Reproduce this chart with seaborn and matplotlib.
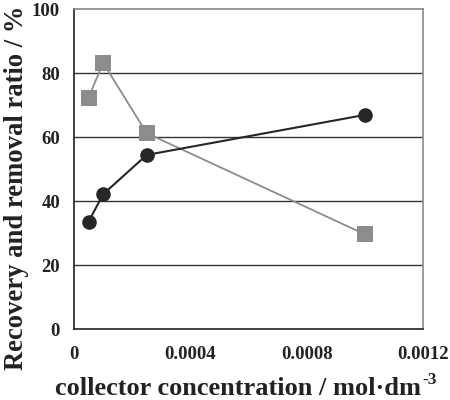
import matplotlib
matplotlib.use("Agg")
import matplotlib.pyplot as plt
import seaborn as sns
import pandas as pd

conc = [0.00005, 0.0001, 0.00025, 0.001]
recovery = [33.5, 42.1, 54.4, 66.9]
removal = [72.3, 83.2, 61.2, 29.6]
xticks = [0, 0.0004, 0.0008, 0.0012]
xticklabels = ["0", "0.0004", "0.0008", "0.0012"]
yticks = [0, 20, 40, 60, 80, 100]

sns.set_theme(style="white")
plt.rcParams['font.family'] = ['Liberation Serif', 'DejaVu Serif']
plt.rcParams['font.weight'] = 'bold'

W, H = 450, 400
fig = plt.figure(figsize=(4.5, 4.0), dpi=100)
ax = fig.add_axes([74 / W, 1 - 329 / H, 349 / W, 320 / H])

df1 = pd.DataFrame({"x": conc, "y": recovery})
df2 = pd.DataFrame({"x": conc, "y": removal})

for yv in [20, 40, 60, 80]:
    ax.axhline(yv, color="#333333", lw=1.0, zorder=0)

sns.lineplot(data=df2, x="x", y="y", ax=ax, color="#8c8c8c", lw=1.3,
             marker="s", markersize=11, markeredgewidth=0, markerfacecolor="#8c8c8c", zorder=3)
sns.lineplot(data=df1, x="x", y="y", ax=ax, color="#262626", lw=1.5,
             marker="o", markersize=10.5, markeredgewidth=0, markerfacecolor="#262626", zorder=4)

ax.set_xlim(0, 0.0012)
ax.set_ylim(0, 100)
ax.set_xticks(xticks)
ax.set_xticklabels(xticklabels)
ax.set_yticks(yticks)
ax.tick_params(axis='x', direction='in', length=5, width=1, colors="#333333", labelcolor="#222222",
               labelsize=13.5, pad=12)
ax.tick_params(axis='y', length=0, labelsize=13.5, labelcolor="#222222", pad=10)
for lab in ax.get_xticklabels() + ax.get_yticklabels():
    lab.set_fontweight('bold')

for s in ['left', 'bottom']:
    ax.spines[s].set_color("#222222")
    ax.spines[s].set_linewidth(1.2)
for s in ['top', 'right']:
    ax.spines[s].set_color("#888888")
    ax.spines[s].set_linewidth(1.2)

xl = ax.set_xlabel("collector concentration / mol·dm", fontsize=19, fontweight='bold',
                   color="#222222", ha='left', va='baseline')
ax.xaxis.set_label_coords(55 / W, 1 - 395 / H, transform=fig.transFigure)

yl = ax.set_ylabel("Recovery and removal ratio / %", fontsize=19.2, fontweight='bold', color="#222222",
                   ha='left', va='baseline', rotation_mode='anchor')
ax.yaxis.set_label_coords(23 / W, 1 - 370 / H, transform=fig.transFigure)

fig.canvas.draw()
bb = xl.get_window_extent()
fig.text((bb.x1 + 1) / W, (1 - 384 / H), "-3", fontsize=12.5, fontweight='bold', color="#222222",
         ha='left', va='baseline')

fig.savefig("out.png", dpi=100)
